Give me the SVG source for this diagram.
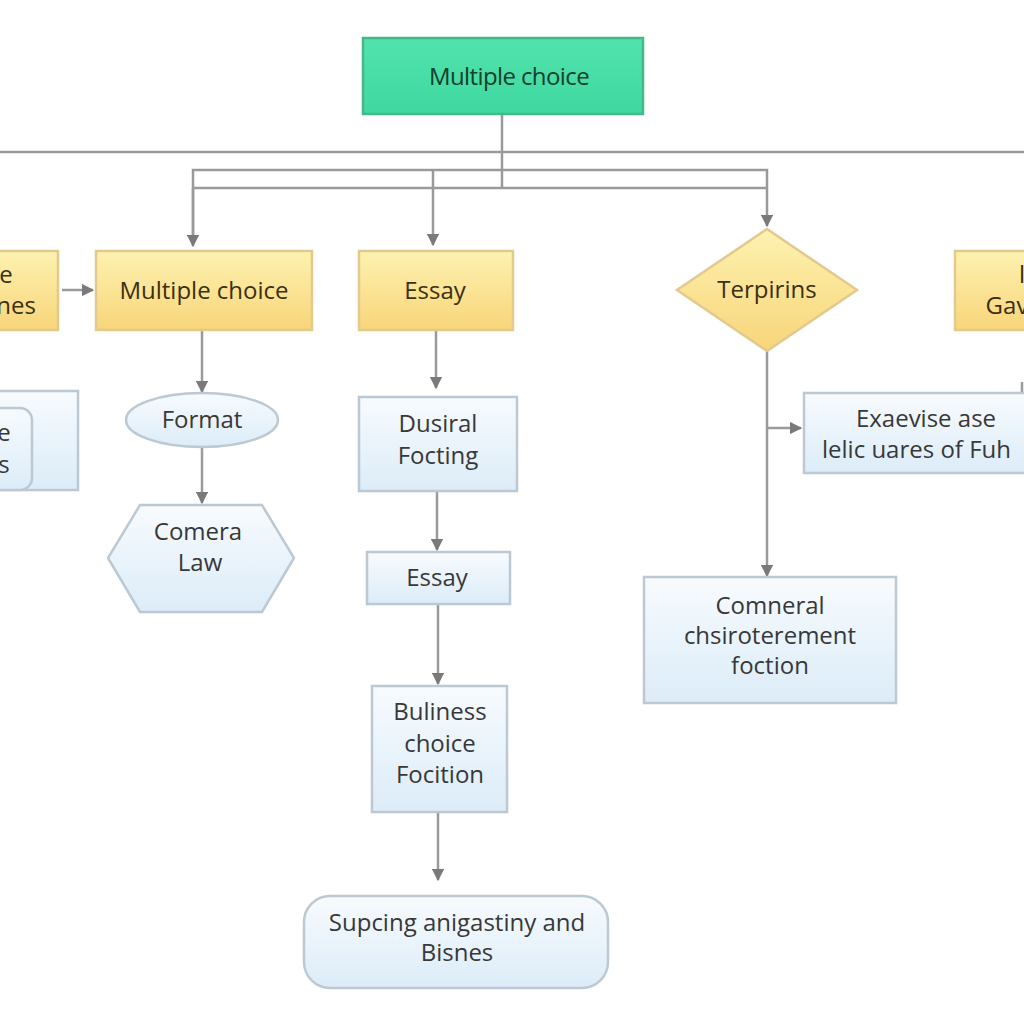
<svg xmlns="http://www.w3.org/2000/svg" width="1024" height="1024" viewBox="0 0 1024 1024">
<defs>
<linearGradient id="gY" x1="0" y1="0" x2="0" y2="1"><stop offset="0" stop-color="#fdf2b0"/><stop offset="1" stop-color="#f8d57a"/></linearGradient>
<linearGradient id="gB" x1="0" y1="0" x2="0" y2="1"><stop offset="0" stop-color="#f7fbfe"/><stop offset="1" stop-color="#dcecf8"/></linearGradient>
<linearGradient id="gG" x1="0" y1="0" x2="0" y2="1"><stop offset="0" stop-color="#52e3ad"/><stop offset="1" stop-color="#3fd8a0"/></linearGradient>
<marker id="ar" viewBox="0 0 10 10" refX="9" refY="5" markerWidth="5" markerHeight="5" orient="auto"><path d="M0,0 L10,5 L0,10 z" fill="#7a7a7a"/></marker>
</defs>
<style>
.c{fill:none;stroke:#9a9a9a;stroke-width:2.5}
.y{fill:url(#gY);stroke:#e2c98c;stroke-width:2.5}
.b{fill:url(#gB);stroke:#bcc8d2;stroke-width:2.5}
text{font-family:"Open Sans","Noto Sans","DejaVu Sans",sans-serif;font-size:24px;text-anchor:middle;fill:#383838}
.ty{fill:#3a3010}
.tg{fill:#14402c;letter-spacing:-0.6px}
</style>
<rect width="1024" height="1024" fill="#ffffff"/>
<g id="connectors">
<line class="c" x1="0" y1="152" x2="1024" y2="152" stroke="#b0b0b0"/>
<line class="c" x1="502" y1="114" x2="502" y2="188"/>
<polyline class="c" points="193,243 193,170 767,170 767,226" marker-end="url(#ar)"/>
<line class="c" x1="193" y1="188" x2="767" y2="188"/>
<line class="c" x1="433" y1="170" x2="433" y2="245" marker-end="url(#ar)"/>
<line class="c" x1="193" y1="188" x2="193" y2="246" marker-end="url(#ar)"/>
<line class="c" x1="62" y1="290" x2="93" y2="290" marker-end="url(#ar)"/>
<line class="c" x1="202" y1="330" x2="202" y2="392" marker-end="url(#ar)"/>
<line class="c" x1="202" y1="447" x2="202" y2="503" marker-end="url(#ar)"/>
<line class="c" x1="436" y1="330" x2="436" y2="388" marker-end="url(#ar)"/>
<line class="c" x1="437" y1="491" x2="437" y2="550" marker-end="url(#ar)"/>
<line class="c" x1="438" y1="604" x2="438" y2="684" marker-end="url(#ar)"/>
<line class="c" x1="438" y1="812" x2="438" y2="880" marker-end="url(#ar)"/>
<line class="c" x1="767" y1="350" x2="767" y2="576" marker-end="url(#ar)"/>
<line class="c" x1="767" y1="428" x2="801" y2="428" marker-end="url(#ar)"/>
<line class="c" x1="1022" y1="382" x2="1022" y2="393"/>
</g>
<g id="top"><rect x="363" y="38" width="280" height="76" fill="url(#gG)" stroke="#45b888" stroke-width="2.5"/><text class="tg" x="509" y="85">Multiple choice</text></g>
<g id="leftPartial"><rect class="y" x="-10" y="251" width="68" height="79"/><text class="ty" x="6" y="283">e</text><text class="ty" x="16" y="314">nes</text></g>
<g id="mc"><rect class="y" x="96" y="251" width="216" height="79"/><text class="ty" x="204" y="299">Multiple choice</text></g>
<g id="essay1"><rect class="y" x="359" y="251" width="154" height="79"/><text class="ty" x="435" y="299">Essay</text></g>
<g id="diamond"><polygon class="y" points="767,229 857,290 767,351 677,290"/><text class="ty" x="767" y="298">Terpirins</text></g>
<g id="rightPartial"><rect class="y" x="955" y="251" width="80" height="79"/><text class="ty" x="1022" y="283">l</text><text class="ty" x="1007" y="314">Gav</text></g>
<g id="leftLower"><rect class="b" x="-10" y="391" width="88" height="99"/><rect class="b" x="-20" y="408" width="52" height="82" rx="12"/><text x="4" y="441">e</text><text x="4" y="473">s</text></g>
<g id="format"><ellipse class="b" cx="202" cy="420" rx="76" ry="27"/><text x="202" y="428">Format</text></g>
<g id="comera"><polygon class="b" points="140,505 262,505 294,558 262,612 140,612 108,558"/><text x="198" y="540">Comera</text><text x="200" y="571">Law</text></g>
<g id="dusiral"><rect class="b" x="359" y="397" width="158" height="94"/><text x="438" y="432">Dusiral</text><text x="438" y="464">Focting</text></g>
<g id="essay2"><rect class="b" x="367" y="552" width="143" height="52"/><text x="437" y="586">Essay</text></g>
<g id="buliness"><rect class="b" x="372" y="686" width="135" height="126"/><text x="440" y="720">Buliness</text><text x="440" y="752">choice</text><text x="440" y="783">Focition</text></g>
<g id="supcing"><rect class="b" x="304" y="896" width="304" height="92" rx="26"/><text x="457" y="931">Supcing anigastiny and</text><text x="457" y="961">Bisnes</text></g>
<g id="exaevise"><rect class="b" x="804" y="393" width="240" height="80"/><text x="926" y="427">Exaevise ase</text><text x="822" y="458" style="text-anchor:start">lelic uares of Fuh</text></g>
<g id="comneral"><rect class="b" x="644" y="577" width="252" height="126"/><text x="770" y="614">Comneral</text><text x="770" y="644">chsiroterement</text><text x="770" y="674">foction</text></g>
</svg>
